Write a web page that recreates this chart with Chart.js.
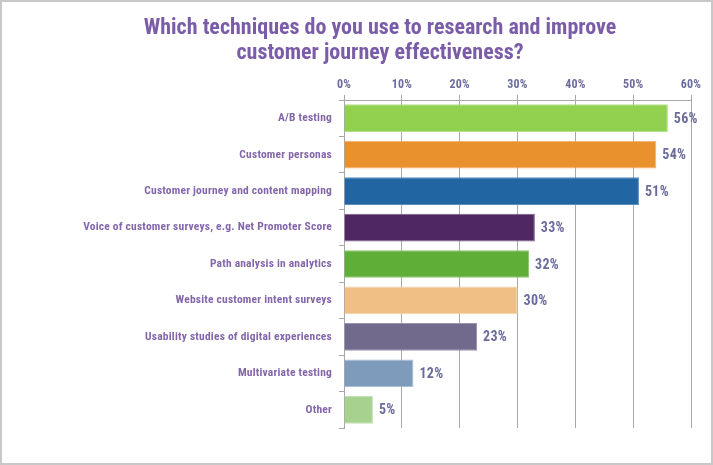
<!DOCTYPE html>
<html>
<head>
<meta charset="utf-8">
<script src="https://cdn.jsdelivr.net/npm/chart.js@4.4.1/dist/chart.umd.min.js"></script>
<style>
  html, body { margin: 0; padding: 0; background: #fff; }
  #wrap { width: 709px; height: 461px; border: 2px solid #c8c8c8; }
  canvas { display: block; }
</style>
</head>
<body>
<div id="wrap"><canvas id="chart" width="709" height="461"></canvas></div>
<script>
// Chart data
const titleLines = ['Which techniques do you use to research and improve', 'customer journey effectiveness?'];
const categories = [
    'A/B testing',
    'Customer personas',
    'Customer journey and content mapping',
    'Voice of customer surveys, e.g. Net Promoter Score',
    'Path analysis in analytics',
    'Website customer intent surveys',
    'Usability studies of digital experiences',
    'Multivariate testing',
    'Other'
];
const values = [56, 54, 51, 33, 32, 30, 23, 12, 5];
const barColors = ['#92d050', '#e8912d', '#2166a3', '#4f2862', '#5fae37', '#efbf85', '#726a8d', '#7f9bbb', '#a6d18e'];
const barBorders = ['#b4e08a', '#f0b070', '#5a8cc0', '#7a5a8c', '#8cc870', '#f5d4ac', '#9a94b0', '#a8bcd4', '#c4e0b4'];
const tickValues = [0, 10, 20, 30, 40, 50, 60];

const titleColor = '#7a5ca8';
const axisColor = '#6b6b9e';
const labelColor = '#8466ab';
const gridColor = '#a8a8a8';
const fontFamily = "'Roboto Condensed', 'Liberation Sans', sans-serif";

// Title, centred a bit right of the canvas like the original
const titleText = {
    id: 'titleText',
    afterDraw(chart) {
        const ctx = chart.ctx;
        ctx.save();
        ctx.fillStyle = titleColor;
        ctx.font = 'bold 22px ' + fontFamily;
        ctx.letterSpacing = '0px';
        ctx.textAlign = 'center';
        ctx.textBaseline = 'alphabetic';
        ctx.fillText(titleLines[0], 378, 32);
        ctx.fillText(titleLines[1], 378, 57);
        ctx.restore();
    }
};

// Value labels at the end of each bar
const valueLabels = {
    id: 'valueLabels',
    afterDatasetsDraw(chart) {
        const ctx = chart.ctx;
        const meta = chart.getDatasetMeta(0);
        ctx.save();
        ctx.fillStyle = axisColor;
        ctx.font = 'bold 14px ' + fontFamily;
        ctx.letterSpacing = '0.3px';
        ctx.textAlign = 'left';
        ctx.textBaseline = 'middle';
        meta.data.forEach((bar, i) => {
            ctx.fillText(values[i] + '%', bar.x + 6, bar.y + 1);
        });
        ctx.restore();
    }
};

// small letter spacing for the axis labels
const spacing = {
    id: 'spacing',
    beforeDraw(chart) { chart.ctx.letterSpacing = '0.2px'; },
    afterDraw(chart) { chart.ctx.letterSpacing = '0px'; }
};

new Chart(document.getElementById('chart'), {
    type: 'bar',
    data: {
        labels: categories,
        datasets: [{
            data: values,
            backgroundColor: barColors,
            borderColor: barBorders,
            borderWidth: 1,
            barPercentage: 0.76,
            categoryPercentage: 1
        }]
    },
    options: {
        indexAxis: 'y',
        responsive: false,
        animation: false,
        layout: { padding: { left: 0, right: 20, top: 77, bottom: 35 } },
        plugins: {
            legend: { display: false },
            tooltip: { enabled: false },
            title: { display: false }
        },
        scales: {
            x: {
                position: 'top',
                min: 0,
                max: 60,
                afterBuildTicks: axis => { axis.ticks = tickValues.map(v => ({ value: v })); },
                afterFit: axis => { axis.height = 21; },
                grid: { color: gridColor, lineWidth: 1, tickLength: 5 },
                border: { color: gridColor },
                ticks: {
                    color: axisColor,
                    padding: 3,
                    font: { family: fontFamily, size: 12, weight: 'bold' },
                    callback: v => v + '%'
                }
            },
            y: {
                afterFit: axis => { axis.width = 342; },
                grid: { drawOnChartArea: false, color: gridColor, tickLength: 5 },
                border: { color: gridColor },
                ticks: {
                    color: labelColor,
                    padding: 7,
                    font: { family: fontFamily, size: 11.5, weight: 'bold' }
                }
            }
        }
    },
    plugins: [spacing, valueLabels, titleText]
});
</script>
</body>
</html>
